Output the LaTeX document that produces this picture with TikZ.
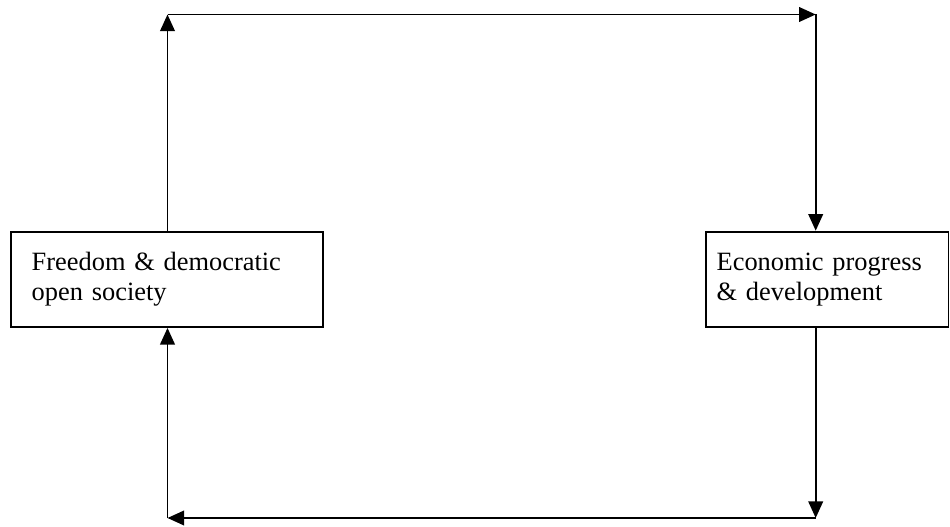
\documentclass[tikz,border=0pt]{standalone}
\usepackage{fontspec}
\setmainfont{Liberation Serif}
\usetikzlibrary{arrows.meta}

\tikzset{
  flowbox/.style={draw, line width=1.4pt, rectangle, align=left, font=\fontsize{19.8}{22.5}\selectfont},
  flowarrow/.style={line width=1.4pt, -{Triangle[length=12.5pt,width=11pt]}}
}

\begin{document}
\begin{tikzpicture}[x=0.75pt,y=0.75pt,yscale=-1,xscale=1]
    \useasboundingbox (0,0) rectangle (950,527);
    %Shape: Rectangle [left box]
    \node [flowbox, minimum width=234pt, minimum height=71.5pt, inner xsep=15.75pt, text width=202.5pt] (freedom) at (166.7,279.3) {Freedom \& democratic\\open society\\[-4pt]};
    %Shape: Rectangle [right box]
    \node [flowbox, minimum width=181.9pt, minimum height=71.5pt, inner xsep=8pt, text width=165.9pt] (economy) at (827.25,279.3) {Economic progress\\\& development\\[-4pt]};
    %Corners of the loop
    \coordinate (topleft) at (167.5,14.5);
    \coordinate (topright) at (815.7,14.5);
    \coordinate (botright) at (815.7,518);
    \coordinate (botleft) at (167.5,518);
    %Straight Lines [upper loop]
    \draw [flowarrow]  (freedom.north -| topleft) -- (topleft) ;
    \draw [flowarrow]  (topleft) -- (topright) ;
    \draw [flowarrow]  (topright) -- (economy.north -| topright) ;
    %Straight Lines [lower loop]
    \draw [flowarrow]  (economy.south -| botright) -- (botright) ;
    \draw [flowarrow]  (botright) -- (botleft) ;
    \draw [flowarrow]  (botleft) -- (freedom.south -| botleft) ;
\end{tikzpicture}
\end{document}
